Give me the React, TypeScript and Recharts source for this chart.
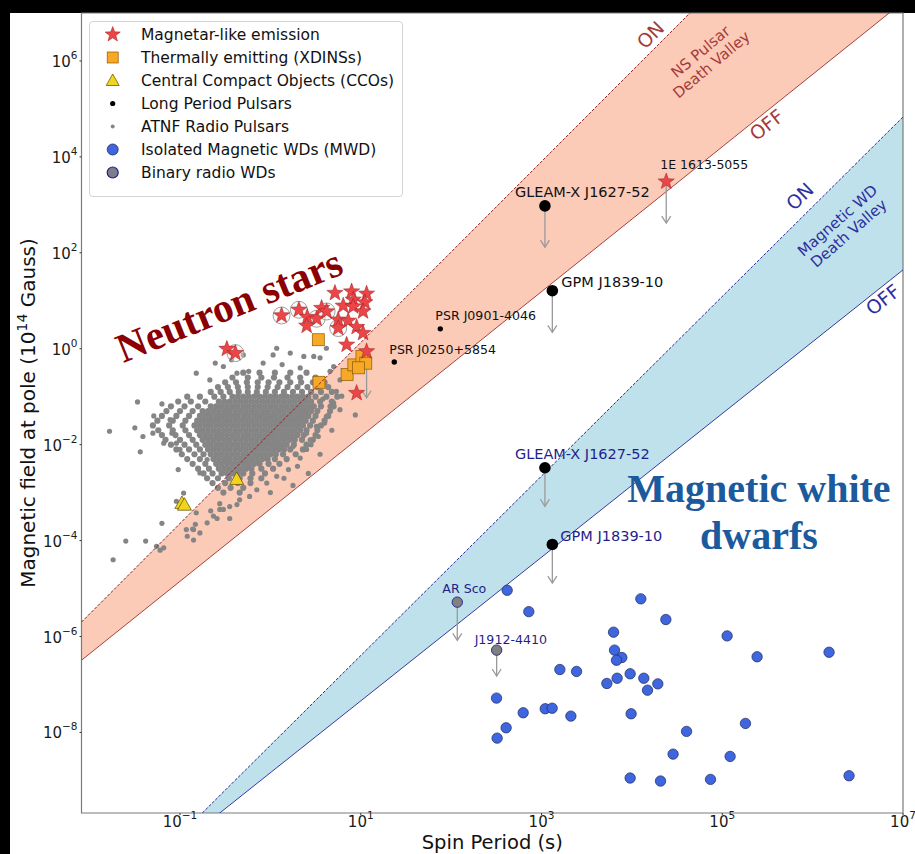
import React from 'react';
import {
  ComposedChart,
  Area,
  Line,
  Scatter,
  XAxis,
  YAxis,
  ReferenceArea,
  ReferenceLine,
  Legend,
} from 'recharts';

const FONT = '"DejaVu Sans", Verdana, sans-serif';
const SERIF = '"Liberation Serif", "Times New Roman", serif';

const X_MIN = 0.00813;
const X_MAX = 1e7;
const Y_MIN = 2.09e-10;
const Y_MAX = 1e7;

const xTicks = [1e-1, 1e1, 1e3, 1e5, 1e7];
const yTicks = [1e-8, 1e-6, 1e-4, 1e-2, 1, 1e2, 1e4, 1e6];

// death valley edges, read where they leave the left and right ends of the plot
const valleyEnds = [
  { P: X_MIN, nsOn: 2.0e-6, nsOff: 3.2e-7, wdOn: 6.6e-13, wdOff: 1.07e-12 },
  { P: X_MAX, nsOn: 2.8e11, nsOff: 1.7e7, wdOn: 6.8e4, wdOff: 44 },
];

// magnetar-like emitters (last one is 1E 1613-5055)
const magnetarP = [0.33, 0.41, 1.33, 2.07, 2.56, 3.25, 3.69, 4.19, 5.18, 7.92, 11.6, 8.26, 11.1, 6.4, 8.26, 10.6, 2.52, 5.63, 7.26, 5.63, 9.0, 10.6, 6.98, 11.6, 9.0, 24000];
const magnetarB = [0.99, 0.81, 4.94, 6.49, 4.57, 4.22, 7.05, 5.98, 14.5, 15.6, 14.0, 10.5, 9.22, 7.87, 7.6, 5.98, 3.01, 4.02, 3.83, 2.7, 2.83, 2.12, 1.21, 0.88, 0.119, 3050];
// the ones with a grey ring around them
const ringP = [0.41, 1.33, 2.07, 3.25, 4.19, 5.63];
const ringB = [0.81, 4.94, 6.49, 4.22, 5.98, 2.7];

const xdinsP = [3.39, 3.45, 7.06, 8.39, 10.31, 11.37, 9.43];
const xdinsB = [1.54, 0.2, 0.29, 0.46, 0.69, 0.5, 0.4];

const ccoP = [0.424, 0.105, 0.112];
const ccoB = [1.93e-3, 6.1e-4, 5.6e-4];

const lppSmallP = [75.9, 23.5];
const lppSmallB = [2.6, 0.53];
const lppBigP = [1091, 1318, 1091, 1318];
const lppBigB = [950, 16.2, 3.3e-3, 8.3e-5];

const mwdP = [417, 724, 12560, 23770, 6270, 113200, 6430, 7740, 6760, 243000, 1.52e6, 1596, 2443, 9570, 5285, 6870, 13550, 19370, 14900, 318, 627, 1099, 1312, 2113, 9810, 180700, 406, 40270, 323, 28580, 122200, 9570, 20750, 74130, 2.53e6];
const mwdB = [9.2e-6, 3.3e-6, 6.1e-6, 2.26e-6, 1.23e-6, 1.03e-6, 5.2e-7, 3.65e-7, 3.2e-7, 3.78e-7, 4.7e-7, 2.05e-7, 1.87e-7, 1.67e-7, 1.05e-7, 1.35e-7, 1.35e-7, 1.03e-7, 7.6e-8, 5.2e-8, 2.57e-8, 3.12e-8, 3.2e-8, 2.19e-8, 2.45e-8, 1.54e-8, 1.25e-8, 1.05e-8, 7.6e-9, 3.53e-9, 3.16e-9, 1.12e-9, 9.7e-10, 1.05e-9, 1.25e-9];

const binaryWdP = [117, 319];
const binaryWdB = [5.2e-6, 5.2e-7];

// upper-limit arrows: period, start, tip
const arrowP = [24000, 1091, 1318, 11.6, 1091, 1318, 117, 319];
const arrowFrom = [3050, 950, 16.2, 0.88, 3.3e-3, 8.3e-5, 5.2e-6, 5.2e-7];
const arrowTo = [416, 131, 2.2, 0.095, 5.2e-4, 1.3e-5, 8.3e-7, 1.5e-7];

// ATNF cloud, dense part: [log10 B, log10 P values along that row]
const atnfRows: [number, number[]][] = [
  [-0.5, [-0.3, -0.12, 0.05, 0.22, 0.4]],
  [-0.6, [-0.42, -0.25, -0.1, 0.04, 0.19, 0.33, 0.5]],
  [-0.7, [-0.5, -0.38, -0.26, -0.14, -0.02, 0.1, 0.22, 0.34, 0.47, 0.6]],
  [-0.8, [-0.58, -0.47, -0.36, -0.25, -0.14, -0.03, 0.08, 0.19, 0.3, 0.41, 0.52, 0.64]],
  [-0.9, [-0.66, -0.55, -0.45, -0.35, -0.25, -0.15, -0.05, 0.05, 0.15, 0.25, 0.35, 0.45, 0.56, 0.68]],
  [-1.0, [-0.92, -0.78, -0.62, -0.52, -0.42, -0.36, -0.3, -0.24, -0.18, -0.12, -0.06, 0, 0.06, 0.12, 0.18, 0.24, 0.3, 0.36, 0.42, 0.5, 0.62, 0.74]],
  [-1.1, [-1.02, -0.88, -0.72, -0.57, -0.51, -0.45, -0.39, -0.33, -0.27, -0.21, -0.15, -0.09, -0.03, 0.03, 0.09, 0.15, 0.21, 0.27, 0.33, 0.39, 0.45, 0.55, 0.68]],
  [-1.2, [-1.1, -0.95, -0.8, -0.66, -0.6, -0.54, -0.48, -0.42, -0.36, -0.3, -0.24, -0.18, -0.12, -0.06, 0, 0.06, 0.12, 0.18, 0.24, 0.3, 0.36, 0.42, 0.48, 0.56, 0.7]],
  [-1.3, [-1.15, -1.0, -0.86, -0.75, -0.69, -0.63, -0.57, -0.51, -0.45, -0.39, -0.33, -0.27, -0.21, -0.15, -0.09, -0.03, 0.03, 0.09, 0.15, 0.21, 0.27, 0.33, 0.39, 0.45, 0.52, 0.66]],
  [-1.4, [-1.2, -1.04, -0.9, -0.78, -0.72, -0.66, -0.6, -0.54, -0.48, -0.42, -0.36, -0.3, -0.24, -0.18, -0.12, -0.06, 0, 0.06, 0.12, 0.18, 0.24, 0.3, 0.36, 0.42, 0.5, 0.64]],
  [-1.5, [-1.25, -1.08, -0.94, -0.81, -0.75, -0.69, -0.63, -0.57, -0.51, -0.45, -0.39, -0.33, -0.27, -0.21, -0.15, -0.09, -0.03, 0.03, 0.09, 0.15, 0.21, 0.27, 0.33, 0.39, 0.47, 0.6]],
  [-1.6, [-1.3, -1.12, -0.97, -0.84, -0.78, -0.72, -0.66, -0.6, -0.54, -0.48, -0.42, -0.36, -0.3, -0.24, -0.18, -0.12, -0.06, 0, 0.06, 0.12, 0.18, 0.24, 0.3, 0.36, 0.44, 0.56]],
  [-1.7, [-1.24, -1.08, -0.94, -0.81, -0.75, -0.69, -0.63, -0.57, -0.51, -0.45, -0.39, -0.33, -0.27, -0.21, -0.15, -0.09, -0.03, 0.03, 0.09, 0.15, 0.21, 0.27, 0.33, 0.4, 0.52]],
  [-1.8, [-1.2, -1.05, -0.9, -0.78, -0.72, -0.66, -0.6, -0.54, -0.48, -0.42, -0.36, -0.3, -0.24, -0.18, -0.12, -0.06, 0, 0.06, 0.12, 0.18, 0.24, 0.3, 0.37, 0.5]],
  [-1.9, [-1.16, -1.0, -0.86, -0.75, -0.69, -0.63, -0.57, -0.51, -0.45, -0.39, -0.33, -0.27, -0.21, -0.15, -0.09, -0.03, 0.03, 0.09, 0.15, 0.21, 0.27, 0.35, 0.47]],
  [-2.0, [-1.1, -0.95, -0.82, -0.72, -0.66, -0.6, -0.54, -0.48, -0.42, -0.36, -0.3, -0.24, -0.18, -0.12, -0.06, 0, 0.06, 0.12, 0.18, 0.26, 0.4]],
  [-2.1, [-1.04, -0.9, -0.78, -0.69, -0.63, -0.57, -0.51, -0.45, -0.39, -0.33, -0.27, -0.21, -0.15, -0.09, -0.03, 0.03, 0.09, 0.15, 0.22, 0.36]],
  [-2.2, [-0.98, -0.84, -0.74, -0.66, -0.6, -0.54, -0.48, -0.42, -0.36, -0.3, -0.24, -0.18, -0.12, -0.06, 0, 0.06, 0.14, 0.28]],
  [-2.3, [-0.92, -0.78, -0.63, -0.57, -0.51, -0.45, -0.39, -0.33, -0.27, -0.21, -0.15, -0.09, -0.03, 0.05, 0.18]],
  [-2.4, [-0.86, -0.72, -0.6, -0.54, -0.48, -0.42, -0.36, -0.3, -0.24, -0.18, -0.12, -0.02, 0.1]],
  [-2.5, [-0.8, -0.68, -0.57, -0.51, -0.45, -0.39, -0.33, -0.27, -0.21, -0.1, 0.03]],
  [-2.6, [-0.74, -0.64, -0.54, -0.48, -0.42, -0.36, -0.3, -0.2, -0.06]],
  [-2.7, [-0.7, -0.58, -0.46, -0.34, -0.22, -0.1]],
  [-2.8, [-0.64, -0.5, -0.36, -0.22]],
  [-2.9, [-0.58, -0.44, -0.3]],
  [-3.0, [-0.52, -0.34]],
];

// ATNF cloud, scattered outskirts: [log10 P, log10 B]
const atnfSparse: [number, number][] = [
  [-1.78, -1.72], [-1.5, -1.65], [-1.47, -1.11], [-1.41, -1.83], [-1.44, -2.15], [-1.3, -1.76],
  [-1.29, -1.4], [-1.2, -1.15], [-1.18, -1.97], [-1.11, -1.48], [-1.09, -1.76], [-1.04, -1.97],
  [-1.0, -2.1], [-1.02, -2.52], [-0.96, -3.01], [-0.93, -3.77], [-0.82, -3.42], [-0.85, -3.77],
  [-0.78, -2.59], [-0.7, -2.31], [-0.82, -0.51], [-0.67, -0.65], [-0.61, -0.3], [-0.52, -0.37],
  [-0.43, -0.23], [-0.37, -0.51], [-0.3, -0.13], [-0.24, -0.47], [-0.08, -0.3], [0.03, -0.13],
  [0.07, 0.01], [0.22, -0.09], [0.13, -0.33], [0.33, -0.4], [0.37, -0.16], [0.48, -0.16],
  [0.55, -0.19], [0.62, 0.01], [0.66, -0.47], [0.7, -0.37], [0.77, -0.65], [0.73, -0.89],
  [0.7, -1.13], [0.62, -1.41], [0.51, -1.62], [0.53, -1.83], [0.44, -1.9], [0.4, -2.1],
  [0.33, -2.28], [0.2, -2.52], [0.07, -2.66], [-0.04, -2.8], [-0.15, -2.94], [-0.23, -3.08],
  [-0.34, -3.15], [-0.45, -3.29], [-0.56, -3.35], [-0.63, -3.49], [-0.7, -3.63], [-0.78, -3.84],
  [0.94, -1.38], [0.79, -0.99], [0.77, -1.27], [0.4, -1.76], [0.25, -2.04], [0.18, -2.31],
  [0.58, -1.05], [0.66, -1.2], [0.6, -1.55], [0.68, -1.7], [0.45, -2.0], [0.55, -2.2],
  [0.3, -2.45], [0.42, -2.6], [0.15, -2.7], [0.25, -2.85], [0.0, -3.0],
  [-1.74, -4.4], [-1.6, -4.01], [-1.38, -4.01], [-1.26, -4.12], [-1.22, -4.2], [-1.18, -4.15],
  [-1.2, -3.64], [-0.92, -3.91], [-0.85, -3.99], [-0.86, -3.76], [-0.83, -3.66], [-0.66, -3.38],
  [-0.59, -3.54], [-0.56, -3.23], [-0.52, -3.35], [-0.45, -3.54], [-0.37, -3.25], [-1.04, -3.18],
];

// names next to markers
const pointNotes = [
  { id: 'gleamNS', text: 'GLEAM-X J1627-52', P: 1091, B: 950 },
  { id: 'gpmNS', text: 'GPM J1839-10', P: 1318, B: 16.2 },
  { id: 'j0901', text: 'PSR J0901-4046', P: 75.9, B: 2.6 },
  { id: 'j0250', text: 'PSR J0250+5854', P: 23.5, B: 0.53 },
  { id: 'e1613', text: '1E 1613-5055', P: 24000, B: 3050 },
  { id: 'gleamWD', text: 'GLEAM-X J1627-52', P: 1091, B: 3.3e-3 },
  { id: 'gpmWD', text: 'GPM J1839-10', P: 1318, B: 8.3e-5 },
  { id: 'arsco', text: 'AR Sco', P: 117, B: 5.2e-6 },
  { id: 'j1912', text: 'J1912-4410', P: 319, B: 5.2e-7 },
];

// free text in the plot, anchored at its centre
const regionNotes = [
  { id: 'nsOn', lines: ['ON'], P: 1.61e4, B: 3.48e6 },
  { id: 'nsValley', lines: ['NS Pulsar', 'Death Valley'], P: 6.6e4, B: 1.15e6 },
  { id: 'nsOff', lines: ['OFF'], P: 3.1e5, B: 4.64e4 },
  { id: 'wdOn', lines: ['ON'], P: 7.24e5, B: 1490 },
  { id: 'wdValley', lines: ['Magnetic WD', 'Death Valley'], P: 2.17e6, B: 348 },
  { id: 'wdOff', lines: ['OFF'], P: 6.0e6, B: 10.5 },
  { id: 'ns', lines: ['Neutron stars'], P: 0.348, B: 8.26 },
  { id: 'mwd', lines: ['Magnetic white', 'dwarfs'], P: 2.55e5, B: 4.12e-4 },
];

const legendItems = [
  'Magnetar-like emission',
  'Thermally emitting (XDINSs)',
  'Central Compact Objects (CCOs)',
  'Long Period Pulsars',
  'ATNF Radio Pulsars',
  'Isolated Magnetic WDs (MWD)',
  'Binary radio WDs',
];

const NAVY = '#1f1f8c';
const NS_RED = '#a63a3a';
const WD_BLUE = '#2e2e9e';
const STAR = '#ec4548';
const STAR_EDGE = '#9b1c1c';
const ORANGE = '#f7a826';
const GOLD = '#f2d41c';
const ROYAL = '#3f66df';
const GREY = '#858585';

const noteLayout: Record<string, { dx: number; dy: number; size: number; color: string }> = {
  gleamNS: { dx: -30, dy: -9, size: 14.5, color: '#111' },
  gpmNS: { dx: 9, dy: -4, size: 14.5, color: '#111' },
  j0901: { dx: -5, dy: -9, size: 12.6, color: '#111' },
  j0250: { dx: -5, dy: -8, size: 12.6, color: '#111' },
  e1613: { dx: -6, dy: -13, size: 12.5, color: '#111' },
  gleamWD: { dx: -30, dy: -8.5, size: 14.5, color: NAVY },
  gpmWD: { dx: 8, dy: -3, size: 14.5, color: NAVY },
  arsco: { dx: -15, dy: -9, size: 12.6, color: NAVY },
  j1912: { dx: -22, dy: -6, size: 12.6, color: NAVY },
};

const regionLayout: Record<string, { angle: number; size: number; color: string; lineH: number; serif?: boolean }> = {
  nsOn: { angle: -45, size: 19, color: NS_RED, lineH: 0 },
  nsValley: { angle: -40, size: 15, color: NS_RED, lineH: 17 },
  nsOff: { angle: -38, size: 19, color: NS_RED, lineH: 0 },
  wdOn: { angle: -44, size: 19, color: WD_BLUE, lineH: 0 },
  wdValley: { angle: -41, size: 15, color: WD_BLUE, lineH: 17 },
  wdOff: { angle: -38, size: 19, color: WD_BLUE, lineH: 0 },
  ns: { angle: -22, size: 41, color: '#8b0000', lineH: 0, serif: true },
  mwd: { angle: 0, size: 40, color: '#1b5a9c', lineH: 47, serif: true },
};

const toPoints = (P: number[], B: number[]) => P.map((p, i) => ({ P: p, B: B[i] }));

const atnfDense = atnfRows.flatMap(([b, ps]) => ps.map((p) => ({ P: 10 ** p, B: 10 ** b })));
const atnfOuter = atnfSparse.map(([p, b]) => ({ P: 10 ** p, B: 10 ** b }));

const starPath = (cx: number, cy: number, R: number, r: number) => {
  let d = '';
  for (let i = 0; i < 10; i++) {
    const rad = i % 2 === 0 ? R : r;
    const a = -Math.PI / 2 + (i * Math.PI) / 5;
    d += (i === 0 ? 'M' : 'L') + (cx + rad * Math.cos(a)).toFixed(2) + ' ' + (cy + rad * Math.sin(a)).toFixed(2);
  }
  return d + 'Z';
};

const PowTick = (props: any) => {
  const { x, y, payload, side } = props;
  const e = Math.round(Math.log10(payload.value));
  const exp = e < 0 ? '\u2212' + -e : String(e);
  if (side === 'x') {
    return (
      <text x={x} y={y + 10} textAnchor="middle" fontFamily={FONT} fontSize={15} fill="#1a1a1a">
        <tspan>10</tspan>
        <tspan dy={-8} fontSize={10.5}>{exp}</tspan>
      </text>
    );
  }
  return (
    <text x={x} y={y + 6} textAnchor="end" fontFamily={FONT} fontSize={15} fill="#1a1a1a">
      <tspan>10</tspan>
      <tspan dy={-8} fontSize={10.5}>{exp}</tspan>
    </text>
  );
};

const XTitle = () => (
  <text x={492.3} y={849} textAnchor="middle" fontFamily={FONT} fontSize={19.5} fill="#111">
    Spin Period (s)
  </text>
);

const YTitle = () => (
  <text transform="translate(35,413) rotate(-90)" textAnchor="middle" fontFamily={FONT} fontSize={20} fill="#111">
    Magnetic field at pole (10<tspan dy={-8} fontSize={14}>14</tspan>
    <tspan dy={8}> Gauss)</tspan>
  </text>
);

const PointNote = (p: any) => {
  const s = noteLayout[p.payload.id];
  return (
    <text x={p.cx + s.dx} y={p.cy + s.dy} fontFamily={FONT} fontSize={s.size} fill={s.color}>
      {p.payload.text}
    </text>
  );
};

const RegionNote = (p: any) => {
  const s = regionLayout[p.payload.id];
  const n = p.payload.lines.length;
  return (
    <g transform={`translate(${p.cx},${p.cy}) rotate(${s.angle})`}>
      <text
        textAnchor="middle"
        fontFamily={s.serif ? SERIF : FONT}
        fontWeight={s.serif ? 700 : 400}
        fontSize={s.size}
        fill={s.color}
      >
        {p.payload.lines.map((l: string, i: number) => (
          <tspan key={i} x={0} y={(i - (n - 1) / 2) * s.lineH + s.size * 0.35}>
            {l}
          </tspan>
        ))}
      </text>
    </g>
  );
};

const LegendMarker = ({ i }: { i: number }) => {
  const cx = 22.7;
  const cy = 11.5;
  switch (i) {
    case 0:
      return <path d={starPath(cx, cy, 8, 3.3)} fill={STAR} stroke={STAR_EDGE} strokeWidth={0.5} />;
    case 1:
      return <rect x={cx - 5.5} y={cy - 5.5} width={11} height={11} fill={ORANGE} stroke="#8b5a00" strokeWidth={0.7} />;
    case 2:
      return <polygon points={`${cx},${cy - 6.5} ${cx + 6.5},${cy + 5} ${cx - 6.5},${cy + 5}`} fill={GOLD} stroke="#5a4a00" strokeWidth={0.7} />;
    case 3:
      return <circle cx={cx} cy={cy} r={2.6} fill="#000" />;
    case 4:
      return <circle cx={cx} cy={cy} r={2} fill={GREY} />;
    case 5:
      return <circle cx={cx} cy={cy} r={5.5} fill={ROYAL} stroke="#1d2a5a" strokeWidth={0.8} />;
    default:
      return <circle cx={cx} cy={cy} r={5.5} fill="#7c7c8c" stroke={NAVY} strokeWidth={1.2} />;
  }
};

const LegendBox = () => (
  <div
    style={{
      width: 314,
      height: 176,
      boxSizing: 'border-box',
      border: '1px solid #d4d4d4',
      borderRadius: 4,
      background: 'rgba(255,255,255,0.85)',
      paddingTop: 1,
      fontFamily: FONT,
      fontSize: 15.5,
      color: '#111',
    }}
  >
    {legendItems.map((name, i) => (
      <div key={name} style={{ display: 'flex', alignItems: 'center', height: 23 }}>
        <svg width={51} height={23} style={{ flex: 'none' }}>
          <LegendMarker i={i} />
        </svg>
        <span style={{ whiteSpace: 'nowrap' }}>{name}</span>
      </div>
    ))}
  </div>
);

export default function App() {
  return (
    <div style={{ position: 'absolute', left: 0, top: 0, width: 915, height: 854, background: '#000' }}>
      <div style={{ position: 'absolute', left: 10, top: 13, width: 905, height: 841, background: '#fff' }} />
      <div style={{ position: 'absolute', left: 0, top: 0 }}>
        <ComposedChart width={915} height={854} data={valleyEnds} margin={{ top: 13, right: 12, bottom: 0, left: 0 }}>
          <XAxis
            dataKey="P"
            type="number"
            scale="log"
            domain={[X_MIN, X_MAX]}
            allowDataOverflow
            ticks={xTicks}
            interval={0}
            tickSize={2}
            tickLine={{ stroke: '#333' }}
            axisLine={false}
            height={41}
            tick={<PowTick side="x" />}
            label={<XTitle />}
          />
          <YAxis
            dataKey="B"
            type="number"
            scale="log"
            domain={[Y_MIN, Y_MAX]}
            allowDataOverflow
            ticks={yTicks}
            interval={0}
            tickSize={2}
            tickLine={{ stroke: '#333' }}
            axisLine={false}
            width={81.5}
            tick={<PowTick side="y" />}
            label={<YTitle />}
          />
          <Legend
            layout="horizontal"
            verticalAlign="middle"
            align="center"
            content={() => <LegendBox />}
            wrapperStyle={{ left: 89, top: 21, width: 314, height: 176 }}
          />

          <Area
            type="linear"
            dataKey={(d: any) => [d.nsOff, d.nsOn]}
            stroke="none"
            fill="#fbcbb8"
            fillOpacity={1}
            isAnimationActive={false}
            legendType="none"
          />
          <Area
            type="linear"
            dataKey={(d: any) => [d.wdOff, d.wdOn]}
            stroke="none"
            fill="#bfe1eb"
            fillOpacity={1}
            isAnimationActive={false}
            legendType="none"
          />

          <Scatter
            data={atnfDense}
            dataKey="B"
            isAnimationActive={false}
            legendType="none"
            shape={(p: any) => <circle cx={p.cx} cy={p.cy} r={3.1} fill={GREY} />}
          />
          <Scatter
            data={atnfOuter}
            dataKey="B"
            isAnimationActive={false}
            legendType="none"
            shape={(p: any) => <circle cx={p.cx} cy={p.cy} r={2.6} fill={GREY} />}
          />

          <Line type="linear" dataKey="nsOn" stroke="#8b2323" strokeWidth={1} strokeDasharray="3 1.6" dot={false} activeDot={false} isAnimationActive={false} legendType="none" zIndex={650} />
          <Line type="linear" dataKey="nsOff" stroke="#a5423f" strokeWidth={1} dot={false} activeDot={false} isAnimationActive={false} legendType="none" />
          <Line type="linear" dataKey="wdOn" stroke="#2a2a96" strokeWidth={1} strokeDasharray="3 1.6" dot={false} activeDot={false} isAnimationActive={false} legendType="none" />
          <Line type="linear" dataKey="wdOff" stroke="#3a3aa0" strokeWidth={1} dot={false} activeDot={false} isAnimationActive={false} legendType="none" />

          {arrowP.map((p, i) => (
            <ReferenceLine
              key={'arrow' + i}
              segment={[
                { x: p, y: arrowFrom[i] },
                { x: p, y: arrowTo[i] },
              ]}
              stroke="#9a9a9a"
              strokeWidth={1.3}
            />
          ))}
          <Scatter
            data={toPoints(arrowP, arrowTo)}
            dataKey="B"
            isAnimationActive={false}
            legendType="none"
            shape={(p: any) => (
              <path
                d={`M${p.cx - 4.5} ${p.cy - 7} L${p.cx} ${p.cy} L${p.cx + 4.5} ${p.cy - 7}`}
                fill="none"
                stroke="#9a9a9a"
                strokeWidth={1.3}
              />
            )}
          />

          <Scatter
            data={toPoints(ringP, ringB)}
            dataKey="B"
            isAnimationActive={false}
            legendType="none"
            shape={(p: any) => <circle cx={p.cx} cy={p.cy} r={8.5} fill="rgba(240,240,240,0.4)" stroke="#a0a0a0" strokeWidth={1} />}
          />
          <Scatter
            data={toPoints(ccoP, ccoB)}
            dataKey="B"
            isAnimationActive={false}
            legendType="none"
            shape={(p: any) => (
              <polygon
                points={`${p.cx},${p.cy - 7} ${p.cx + 7},${p.cy + 5.5} ${p.cx - 7},${p.cy + 5.5}`}
                fill={GOLD}
                stroke="#5a4a00"
                strokeWidth={0.7}
              />
            )}
          />
          <Scatter
            data={toPoints(xdinsP, xdinsB)}
            dataKey="B"
            isAnimationActive={false}
            legendType="none"
            shape={(p: any) => <rect x={p.cx - 6} y={p.cy - 6} width={12} height={12} fill={ORANGE} stroke="#8b5a00" strokeWidth={0.7} />}
          />
          <Scatter
            data={toPoints(magnetarP, magnetarB)}
            dataKey="B"
            isAnimationActive={false}
            legendType="none"
            shape={(p: any) => <path d={starPath(p.cx, p.cy, 8.5, 3.5)} fill={STAR} stroke={STAR_EDGE} strokeWidth={0.5} />}
          />
          <Scatter
            data={toPoints(lppSmallP, lppSmallB)}
            dataKey="B"
            isAnimationActive={false}
            legendType="none"
            shape={(p: any) => <circle cx={p.cx} cy={p.cy} r={2.7} fill="#000" />}
          />
          <Scatter
            data={toPoints(lppBigP, lppBigB)}
            dataKey="B"
            isAnimationActive={false}
            legendType="none"
            shape={(p: any) => <circle cx={p.cx} cy={p.cy} r={5.8} fill="#000" />}
          />
          <Scatter
            data={toPoints(mwdP, mwdB)}
            dataKey="B"
            isAnimationActive={false}
            legendType="none"
            shape={(p: any) => <circle cx={p.cx} cy={p.cy} r={5.2} fill={ROYAL} stroke="#1d2a5a" strokeWidth={0.7} />}
          />
          <Scatter
            data={toPoints(binaryWdP, binaryWdB)}
            dataKey="B"
            isAnimationActive={false}
            legendType="none"
            shape={(p: any) => <circle cx={p.cx} cy={p.cy} r={5.2} fill="#808080" stroke={NAVY} strokeWidth={0.9} />}
          />

          <Scatter data={pointNotes} dataKey="B" isAnimationActive={false} legendType="none" shape={(p: any) => <PointNote {...p} />} />
          <Scatter data={regionNotes} dataKey="B" isAnimationActive={false} legendType="none" shape={(p: any) => <RegionNote {...p} />} />

          <ReferenceArea
            x1={X_MIN}
            x2={X_MAX}
            y1={Y_MIN}
            y2={Y_MAX}
            ifOverflow="visible"
            fill="none"
            stroke="#7a7a7a"
            strokeWidth={1.2}
          />
        </ComposedChart>
      </div>
    </div>
  );
}
